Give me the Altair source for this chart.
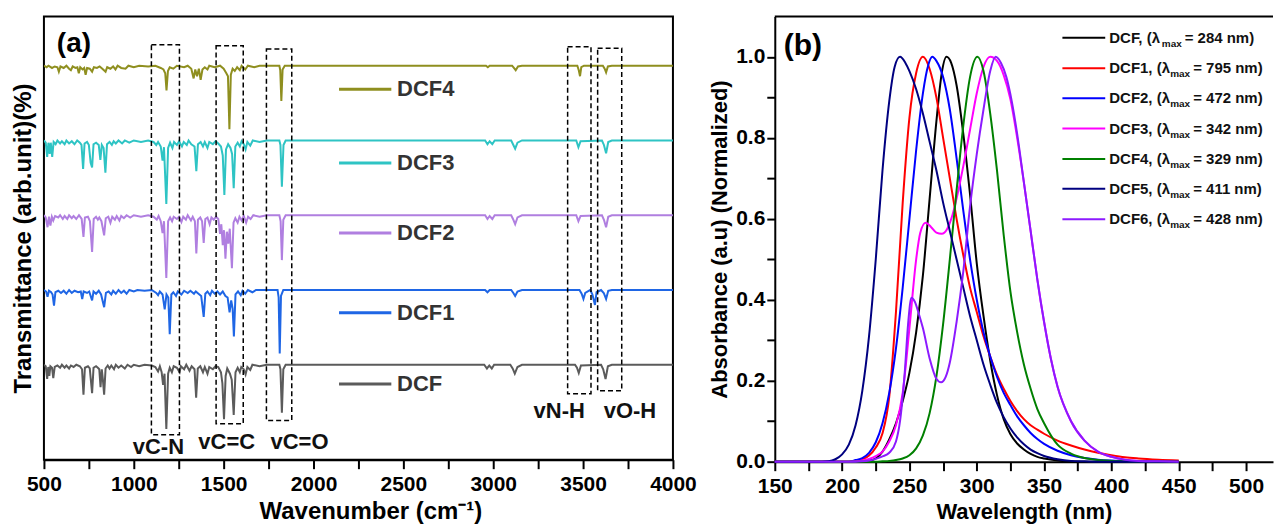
import altair as alt
import pandas as pd

FONT = "Liberation Sans"

# ---------------- Panel (a): FTIR spectra (relative transmittance, offset per series) ----------------
ir_names = ["DCF", "DCF1", "DCF2", "DCF3", "DCF4"]
ir_offsets = [0, 1, 2, 3, 4]
ir_colors = ["#5b5b5b", "#1f66e5", "#b07fe0", "#2ec4c4", "#8f8f1f"]

ir_DCF = [(500,0),(510,-0.02),(518,-0.19),(524,-0.03),(530,-0.15),(536,-0.02),(545,-0.04),(552,-0.18),(560,-0.03),
          (575,-0.01),(590,-0.04),(600,0),(615,-0.04),(625,-0.01),(640,-0.05),(650,-0.01),(665,-0.03),(680,0),(700,-0.02),
          (712,-0.06),(720,-0.40),(728,-0.04),(745,-0.02),(755,-0.05),(768,-0.38),(776,-0.04),(790,-0.02),(800,-0.04),
          (808,-0.06),(815,-0.30),(822,-0.06),(828,-0.20),(835,-0.40),(843,-0.05),(855,-0.01),(865,-0.05),(875,-0.01),
          (890,-0.06),(900,0),(915,-0.04),(930,-0.01),(950,-0.05),(965,0),(985,-0.03),(1000,0),(1030,-0.02),(1060,0),
          (1100,-0.01),(1120,-0.03),(1135,-0.09),(1145,-0.02),(1155,-0.10),(1163,-0.27),(1171,-0.12),(1181,-0.86),
          (1191,-0.12),(1200,-0.04),(1212,-0.10),(1222,-0.02),(1240,-0.04),(1255,-0.10),(1262,-0.02),(1280,-0.06),
          (1292,0),(1310,-0.08),(1322,-0.02),(1338,-0.06),(1347,-0.44),(1356,-0.05),(1370,-0.02),(1385,-0.10),
          (1395,-0.03),(1410,-0.12),(1420,-0.03),(1440,-0.06),(1455,-0.02),(1470,-0.03),(1485,-0.10),(1493,-0.25),
          (1502,-0.73),(1511,-0.15),(1520,-0.05),(1535,-0.12),(1545,-0.20),(1556,-0.67),(1566,-0.10),(1578,-0.04),
          (1590,-0.10),(1598,-0.03),(1612,-0.06),(1622,-0.13),(1632,-0.03),(1648,-0.07),(1660,0),(1700,-0.02),(1740,0),
          (1810,0),(1816,-0.06),(1824,-0.64),(1832,-0.06),(1845,0),(2950,0),(2965,-0.05),(2978,-0.01),(2992,-0.05),
          (3005,0),(3095,0),(3108,-0.05),(3120,-0.12),(3135,-0.03),(3160,0),(3455,0),(3466,-0.04),(3476,-0.11),
          (3488,-0.01),(3600,0),(3612,-0.06),(3625,-0.19),(3638,-0.02),(3660,0),(4000,0)]

ir_DCF1 = [(500,0),(512,-0.02),(520,-0.09),(528,-0.01),(540,-0.03),(548,-0.06),(556,-0.21),(564,-0.03),(580,-0.01),
           (595,-0.04),(610,-0.01),(625,-0.05),(640,0),(655,-0.04),(670,-0.01),(690,-0.03),(705,-0.02),(713,-0.12),
           (721,-0.02),(740,-0.04),(752,-0.02),(768,-0.14),(776,-0.02),(790,-0.05),(805,-0.01),(818,-0.06),(835,-0.23),
           (845,-0.04),(860,-0.02),(875,-0.06),(885,-0.01),(900,-0.05),(915,0),(930,-0.04),(945,-0.01),(960,-0.05),
           (975,0),(1000,-0.02),(1020,0),(1060,-0.01),(1100,0),(1125,-0.04),(1135,-0.07),(1145,-0.02),(1160,-0.06),
           (1172,-0.26),(1182,-0.06),(1192,-0.10),(1200,-0.59),(1209,-0.06),(1220,-0.03),(1235,-0.08),(1245,-0.02),
           (1265,-0.06),(1280,-0.01),(1300,-0.04),(1315,-0.01),(1335,-0.05),(1345,-0.02),(1360,-0.05),(1375,-0.08),
           (1389,-0.36),(1398,-0.05),(1410,-0.02),(1425,-0.07),(1435,-0.01),(1450,-0.05),(1465,-0.02),(1480,-0.06),
           (1495,-0.02),(1510,-0.08),(1522,-0.10),(1533,-0.30),(1542,-0.14),(1550,-0.25),(1557,-0.62),(1566,-0.06),
           (1580,-0.02),(1595,-0.07),(1605,-0.01),(1620,-0.05),(1635,0),(1660,-0.03),(1680,0),(1800,0),(1806,-0.10),
           (1812,-0.85),(1819,-0.08),(1832,0),(2955,0),(2968,-0.03),(2980,0),(3100,0),(3112,-0.04),(3122,-0.08),
           (3135,-0.02),(3160,0),(3480,0),(3492,-0.05),(3502,-0.12),(3512,-0.04),(3540,0),(3552,-0.06),(3566,-0.20),
           (3575,-0.03),(3600,0),(3615,-0.04),(3628,-0.12),(3640,-0.01),(3660,0),(4000,0)]

ir_DCF2 = [(500,0),(510,-0.03),(520,-0.16),(528,-0.02),(536,-0.14),(544,-0.02),(552,-0.07),(562,-0.01),(580,-0.03),
           (590,0),(605,-0.05),(615,-0.01),(630,-0.05),(640,0),(655,-0.04),(665,-0.01),(680,-0.05),(695,0),(710,-0.05),
           (720,-0.29),(728,-0.03),(745,-0.02),(756,-0.08),(768,-0.49),(777,-0.05),(790,-0.02),(800,-0.06),(808,-0.03),
           (820,-0.08),(835,-0.27),(844,-0.04),(858,-0.02),(870,-0.10),(880,-0.02),(895,-0.06),(905,-0.01),(920,-0.07),
           (930,-0.01),(945,-0.04),(960,0),(980,-0.03),(1000,0),(1040,-0.02),(1080,0),(1110,-0.02),(1128,-0.06),
           (1138,-0.01),(1150,-0.08),(1160,-0.24),(1168,-0.08),(1181,-0.84),(1191,-0.08),(1202,-0.03),(1213,-0.08),
           (1222,-0.02),(1240,-0.05),(1252,-0.02),(1265,-0.09),(1275,-0.02),(1290,-0.06),(1300,0),(1318,-0.07),
           (1328,-0.02),(1340,-0.08),(1348,-0.51),(1357,-0.06),(1370,-0.03),(1380,-0.08),(1389,-0.37),(1398,-0.05),
           (1410,-0.03),(1422,-0.12),(1432,-0.03),(1445,-0.06),(1458,-0.02),(1470,-0.05),(1480,-0.25),(1487,-0.12),
           (1495,-0.40),(1502,-0.20),(1510,-0.58),(1518,-0.22),(1526,-0.38),(1534,-0.18),(1546,-0.71),(1555,-0.10),
           (1565,-0.04),(1578,-0.10),(1588,-0.02),(1600,-0.07),(1612,-0.01),(1625,-0.10),(1636,-0.02),(1650,-0.05),
           (1665,0),(1700,-0.02),(1740,0),(1810,0),(1817,-0.08),(1824,-0.60),(1832,-0.06),(1845,0),(2955,0),
           (2968,-0.05),(2980,-0.01),(2995,-0.05),(3008,0),(3100,0),(3110,-0.05),(3122,-0.12),(3135,-0.03),(3160,0),
           (3462,0),(3474,-0.08),(3486,-0.01),(3605,0),(3616,-0.06),(3628,-0.16),(3640,-0.02),(3660,0),(4000,0)]

ir_DCF3 = [(500,0),(510,-0.03),(518,-0.22),(525,-0.03),(532,-0.18),(538,-0.03),(546,-0.22),(554,-0.02),(565,-0.05),
           (575,0),(590,-0.04),(600,-0.01),(615,-0.05),(625,0),(640,-0.04),(655,-0.01),(670,-0.05),(685,0),(700,-0.03),
           (709,-0.06),(718,-0.38),(726,-0.04),(740,-0.02),(750,-0.06),(760,-0.30),(768,-0.36),(776,-0.05),(790,-0.03),
           (805,-0.06),(814,-0.26),(822,-0.06),(832,-0.10),(842,-0.43),(851,-0.05),(865,-0.02),(878,-0.06),(888,-0.01),
           (900,-0.04),(915,0),(935,-0.04),(950,0),(975,-0.03),(1000,0),(1040,-0.02),(1080,0),(1110,-0.02),
           (1125,-0.06),(1135,-0.02),(1150,-0.08),(1160,-0.27),(1168,-0.09),(1181,-0.85),(1191,-0.10),(1202,-0.03),
           (1215,-0.10),(1224,-0.02),(1240,-0.06),(1252,-0.01),(1268,-0.08),(1278,-0.02),(1295,-0.06),(1305,0),
           (1320,-0.05),(1338,-0.08),(1348,-0.41),(1357,-0.05),(1372,-0.02),(1385,-0.08),(1395,-0.02),(1410,-0.10),
           (1420,-0.02),(1440,-0.05),(1455,-0.01),(1470,-0.04),(1485,-0.08),(1495,-0.20),(1504,-0.73),(1513,-0.12),
           (1525,-0.05),(1538,-0.10),(1547,-0.18),(1556,-0.64),(1565,-0.08),(1578,-0.03),(1590,-0.08),(1600,-0.01),
           (1612,-0.05),(1622,-0.12),(1632,-0.02),(1648,-0.07),(1662,0),(1700,-0.02),(1740,0),(1810,0),(1816,-0.06),
           (1824,-0.62),(1833,-0.06),(1845,0),(2955,0),(2968,-0.05),(2980,-0.01),(2995,-0.05),(3008,0),(3100,0),
           (3110,-0.05),(3122,-0.11),(3135,-0.03),(3160,0),(3462,0),(3474,-0.09),(3486,-0.01),(3605,0),(3616,-0.06),
           (3628,-0.17),(3640,-0.02),(3660,0),(4000,0)]

ir_DCF4 = [(500,0),(515,-0.02),(525,0),(545,-0.03),(560,-0.01),(575,-0.02),(583,-0.08),(592,-0.01),(610,-0.03),
           (625,0),(640,-0.04),(650,-0.06),(660,-0.01),(675,-0.03),(686,-0.02),(694,-0.10),(702,-0.02),(715,-0.05),
           (724,-0.03),(732,-0.12),(740,-0.03),(755,-0.04),(768,-0.08),(778,-0.02),(795,-0.03),(810,-0.01),
           (825,-0.04),(843,-0.08),(852,-0.02),(870,-0.04),(885,-0.01),(898,-0.05),(910,0),(930,-0.03),(954,-0.04),
           (970,0),(1000,-0.02),(1030,0),(1080,-0.01),(1120,0),(1150,-0.03),(1165,-0.05),(1175,-0.10),(1182,-0.33),
           (1190,-0.07),(1200,-0.02),(1220,-0.04),(1240,0),(1280,-0.02),(1300,0),(1320,-0.04),(1333,-0.17),
           (1342,-0.05),(1352,-0.14),(1362,-0.04),(1372,-0.19),(1382,-0.05),(1395,-0.02),(1410,-0.05),(1420,0),
           (1450,-0.02),(1480,0),(1500,-0.04),(1515,-0.10),(1524,-0.14),(1532,-0.85),(1540,-0.12),(1550,-0.04),
           (1562,-0.07),(1575,-0.02),(1590,-0.06),(1600,0),(1620,-0.05),(1635,0),(1670,-0.02),(1700,0),(1810,0),
           (1815,-0.06),(1821,-0.47),(1828,-0.05),(1840,0),(2960,0),(2970,-0.02),(2980,0),(3105,0),(3115,-0.03),
           (3125,-0.06),(3138,-0.01),(3160,0),(3468,0),(3476,-0.06),(3483,-0.14),(3490,-0.02),(3505,0),(3610,0),
           (3620,-0.04),(3628,-0.09),(3638,-0.01),(3660,0),(4000,0)]

ir_points = [ir_DCF, ir_DCF1, ir_DCF2, ir_DCF3, ir_DCF4]

# in-panel legend of (a)
leg_a_names = ["DCF4", "DCF3", "DCF2", "DCF1", "DCF"]
leg_a_y = [3.686, 2.698, 1.762, 0.694, -0.256]
leg_a_line = [2142, 2433]
leg_a_text_x = 2465

# dashed boxes of (a)
box_labels = ["vC-N", "vC=C", "vC=O", "vN-H", "vO-H"]
box_x1 = [1098, 1458, 1738, 3414, 3581]
box_x2 = [1254, 1609, 1879, 3544, 3715]
box_y1 = [-0.937, -0.79, -0.745, -0.389, -0.349]
box_y2 = [4.28, 4.267, 4.223, 4.254, 4.234]
box_lab_x = [1137, 1517, 1922, 3367, 3761]
box_lab_y = [-1.10, -1.03, -1.03, -0.625, -0.625]

a_ticks = [500, 750, 1000, 1250, 1500, 1750, 2000, 2250, 2500, 2750, 3000, 3250, 3500, 3750, 4000]

# ---------------- Panel (b): UV-vis normalized absorbance ----------------
uv_names = ["DCF", "DCF1", "DCF2", "DCF3", "DCF4", "DCF5", "DCF6"]
uv_colors = ["#000000", "#ff0000", "#0000ff", "#ff00ff", "#008000", "#000080", "#8c1aff"]
uv_lmax = [284, 795, 472, 342, 329, 411, 428]

uv_DCF = [(150,0),(200,0),(215,0),(220,0.002),(225,0.008),(230,0.025),(235,0.055),(240,0.095),(245,0.15),(250,0.22),
          (255,0.32),(260,0.46),(265,0.65),(270,0.84),(274,0.96),(277.5,1.0),(281,0.985),(285,0.93),(290,0.81),
          (295,0.66),(300,0.49),(305,0.36),(310,0.25),(315,0.165),(320,0.105),(325,0.068),(330,0.045),(335,0.03),
          (340,0.019),(345,0.012),(350,0.008),(360,0.003),(370,0.001),(380,0),(450,0)]
uv_DCF1 = [(150,0),(205,0),(210,0.002),(215,0.006),(220,0.015),(225,0.035),(230,0.07),(235,0.16),(240,0.37),(245,0.64),
           (250,0.85),(255,0.96),(260,1.0),(265,0.97),(270,0.90),(275,0.80),(280,0.70),(285,0.60),(290,0.51),(295,0.43),
           (300,0.37),(305,0.31),(310,0.26),(315,0.215),(320,0.18),(325,0.15),(330,0.125),(335,0.105),(340,0.09),
           (345,0.079),(350,0.069),(360,0.052),(370,0.04),(380,0.03),(390,0.022),(400,0.016),(410,0.011),(420,0.008),
           (435,0.005),(450,0.003)]
uv_DCF2 = [(150,0),(205,0),(210,0.004),(215,0.009),(220,0.022),(225,0.048),(230,0.095),(235,0.17),(240,0.28),(245,0.43),
           (250,0.60),(255,0.77),(260,0.91),(264,0.98),(267,1.0),(270,0.99),(275,0.95),(280,0.87),(285,0.75),(290,0.62),
           (295,0.50),(300,0.40),(305,0.32),(310,0.26),(315,0.21),(320,0.17),(325,0.14),(330,0.112),(335,0.09),
           (340,0.071),(345,0.056),(350,0.044),(360,0.027),(370,0.016),(380,0.009),(390,0.005),(400,0.003),(410,0.002),
           (420,0.001),(435,0),(450,0)]
uv_DCF3 = [(150,0),(205,0),(210,0.001),(215,0.003),(220,0.007),(225,0.014),(230,0.025),(235,0.05),(240,0.09),(245,0.17),
           (250,0.33),(255,0.50),(258,0.565),(262,0.59),(266,0.58),(270,0.566),(274,0.563),(278,0.575),(282,0.61),
           (286,0.665),(290,0.73),(295,0.82),(300,0.91),(305,0.975),(310,1.0),(315,0.99),(320,0.955),(325,0.895),
           (330,0.80),(335,0.69),(340,0.57),(345,0.45),(350,0.345),(355,0.255),(360,0.185),(370,0.10),(380,0.052),
           (390,0.025),(400,0.012),(410,0.005),(420,0.002),(435,0.001),(450,0)]
uv_DCF4 = [(150,0),(225,0),(230,0.001),(235,0.002),(240,0.004),(245,0.008),(250,0.016),(255,0.033),(260,0.065),(265,0.12),
           (270,0.21),(275,0.34),(280,0.50),(285,0.67),(290,0.83),(295,0.95),(300.5,1.0),(305,0.965),(310,0.86),
           (315,0.72),(320,0.56),(325,0.42),(330,0.32),(335,0.24),(340,0.18),(345,0.13),(350,0.095),(360,0.042),
           (370,0.02),(380,0.009),(390,0.004),(400,0.002),(410,0.001),(420,0),(450,0)]
uv_DCF5 = [(150,0),(185,0),(190,0.001),(195,0.006),(200,0.018),(205,0.042),(210,0.09),(215,0.175),(220,0.31),(225,0.50),
           (230,0.72),(235,0.89),(239,0.975),(243,1.0),(247,0.985),(250,0.965),(255,0.92),(260,0.86),(265,0.79),
           (270,0.72),(275,0.64),(280,0.57),(285,0.50),(290,0.43),(295,0.36),(300,0.30),(305,0.24),(310,0.19),
           (315,0.145),(320,0.11),(325,0.082),(330,0.06),(335,0.043),(340,0.03),(345,0.021),(350,0.014),(360,0.006),
           (370,0.002),(380,0.001),(390,0),(450,0)]
uv_DCF6 = [(150,0),(210,0),(215,0.001),(220,0.003),(225,0.007),(230,0.013),(235,0.022),(240,0.05),(243,0.10),
           (246.5,0.22),(249,0.34),(251.5,0.405),(254,0.395),(257,0.365),(260,0.33),(265,0.255),(270,0.205),
           (273.5,0.196),(277,0.21),(280,0.245),(285,0.345),(290,0.47),(295,0.63),(300,0.76),(305,0.87),(310,0.965),
           (314,1.0),(318,0.985),(322,0.95),(326,0.89),(330,0.81),(335,0.69),(340,0.57),(345,0.45),(350,0.345),
           (355,0.255),(360,0.185),(370,0.10),(380,0.052),(390,0.025),(400,0.012),(410,0.005),(420,0.002),
           (435,0.001),(450,0)]
uv_points = [uv_DCF, uv_DCF1, uv_DCF2, uv_DCF3, uv_DCF4, uv_DCF5, uv_DCF6]

b_xticks = [150, 175, 200, 225, 250, 275, 300, 325, 350, 375, 400, 425, 450, 475, 500]
b_yticks = [0.0, 0.1, 0.2, 0.3, 0.4, 0.5, 0.6, 0.7, 0.8, 0.9, 1.0]

# legend layout of (b) (in data units of panel b)
leg_b_line = [363.6, 395.4]
leg_b_text_x = 398.4
leg_b_sub_x = [437.4, 443.6, 443.6, 443.6, 443.6, 443.6, 443.6]
leg_b_rest_x = [454.4, 460.7, 460.7, 460.7, 460.7, 460.7, 460.7]
leg_b_y = [1.047, 0.972, 0.898, 0.823, 0.748, 0.674, 0.599]

# ---------------- build tables ----------------
ir_rows = []
for name, off, pts in zip(ir_names, ir_offsets, ir_points):
    for wn, t in pts:
        ir_rows.append({"ir": name, "wn": wn, "T": t + off})
ir_df = pd.DataFrame(ir_rows)

leg_a_df = pd.DataFrame({"ir": leg_a_names, "T": leg_a_y,
                         "wn": [leg_a_line[0]] * 5, "wn2": [leg_a_line[1]] * 5,
                         "wnt": [leg_a_text_x] * 5})
box_df = pd.DataFrame({"label": box_labels, "wn": box_x1, "wn2": box_x2, "T": box_y1, "T2": box_y2,
                       "lx": box_lab_x, "ly": box_lab_y})

uv_rows = []
for name, pts in zip(uv_names, uv_points):
    for lam, a in pts:
        uv_rows.append({"uv": name, "lam": lam, "A": a})
uv_df = pd.DataFrame(uv_rows)

leg_b_df = pd.DataFrame({
    "uv": uv_names,
    "A": leg_b_y,
    "lam": [leg_b_line[0]] * 7,
    "lam2": [leg_b_line[1]] * 7,
    "lt": [leg_b_text_x] * 7,
    "ls": leg_b_sub_x,
    "lr": leg_b_rest_x,
    "pre": [f"{n}, (λ" for n in uv_names],
    "sub": ["max"] * 7,
    "rest": [f" = {v} nm)" for v in uv_lmax],
})

# ---------------- panel (a) ----------------
xa_scale = alt.Scale(domain=[500, 4000], nice=False, zero=False)
ya_scale = alt.Scale(domain=[-1.27, 4.66], nice=False, zero=False)

xa_axis = alt.Axis(values=a_ticks, format="d",
                   labelExpr="datum.value % 500 == 0 ? datum.label : ''",
                   labelFlush=False, labelOverlap=False, grid=False,
                   tickSize=9, tickWidth=2, tickColor="black",
                   domainColor="black", domainWidth=2,
                   labelFont=FONT, labelFontSize=21, labelFontWeight="bold", labelColor="black", labelPadding=5,
                   titleFont=FONT, titleFontSize=24, titleFontWeight="bold", titleColor="black",
                   titlePadding=5, titleX=327)
ya_axis = alt.Axis(labels=False, ticks=False, domain=False, grid=False,
                   titleFont=FONT, titleFontSize=24, titleFontWeight="bold", titleColor="black",
                   titlePadding=8)

XA = alt.X("wn:Q", scale=xa_scale, axis=xa_axis, title="Wavenumber (cm⁻¹)")
YA = alt.Y("T:Q", scale=ya_scale, axis=ya_axis, title="Transmittance (arb.unit)(%)")
col_a = alt.Color("ir:N", scale=alt.Scale(domain=ir_names, range=ir_colors), legend=None)

lines_a = alt.Chart(ir_df).mark_line(strokeWidth=2, clip=True).encode(x=XA, y=YA, color=col_a, detail="ir:N")
leg_lines_a = alt.Chart(leg_a_df).mark_rule(strokeWidth=3).encode(x=XA, x2="wn2:Q", y=YA, color=col_a)
leg_text_a = alt.Chart(leg_a_df).mark_text(align="left", baseline="middle", font=FONT, fontSize=22,
                                           fontWeight="bold", color="#333333").encode(
    x=alt.X("wnt:Q", scale=xa_scale, axis=xa_axis, title="Wavenumber (cm⁻¹)"), y=YA, text="ir:N")
boxes_a = alt.Chart(box_df).mark_rect(fillOpacity=0, stroke="black", strokeWidth=1.5, strokeDash=[5, 3]).encode(
    x=XA, x2="wn2:Q", y=YA, y2="T2:Q")
box_text_a = alt.Chart(box_df).mark_text(align="center", baseline="middle", font=FONT, fontSize=22,
                                         fontWeight="bold", color="#111111").encode(
    x=alt.X("lx:Q", scale=xa_scale, axis=xa_axis, title="Wavenumber (cm⁻¹)"),
    y=alt.Y("ly:Q", scale=ya_scale, axis=ya_axis, title="Transmittance (arb.unit)(%)"),
    text="label:N")
tag_a = alt.Chart(pd.DataFrame({"wn": [572], "T": [4.287], "t": ["(a)"]})).mark_text(
    align="left", baseline="middle", font=FONT, fontSize=28, fontWeight="bold", color="black").encode(
    x=XA, y=YA, text="t:N")

panel_a = alt.layer(lines_a, leg_lines_a, leg_text_a, boxes_a, box_text_a, tag_a).properties(
    width=630, height=444, view=alt.ViewBackground(stroke="black", strokeWidth=2))

# ---------------- panel (b) ----------------
xb_scale = alt.Scale(domain=[150, 520], nice=False, zero=False)
yb_scale = alt.Scale(domain=[0, 1.1], nice=False)

xb_axis = alt.Axis(values=b_xticks, format="d",
                   labelExpr="datum.value % 50 == 0 ? datum.label : ''",
                   labelFlush=False, labelOverlap=False, grid=False,
                   tickSize=9, tickWidth=2, tickColor="black",
                   domainColor="black", domainWidth=2,
                   labelFont=FONT, labelFontSize=21, labelFontWeight="bold", labelColor="black", labelPadding=5,
                   titleFont=FONT, titleFontSize=22, titleFontWeight="bold", titleColor="black", titlePadding=5)
yb_axis = alt.Axis(values=b_yticks,
                   labelExpr="round(datum.value * 10) % 2 == 0 ? format(datum.value, '.1f') : ''",
                   labelFlush=False, labelOverlap=False, grid=False,
                   tickSize=8, tickWidth=2, tickColor="black",
                   domainColor="black", domainWidth=2,
                   labelFont=FONT, labelFontSize=21, labelFontWeight="bold", labelColor="black", labelPadding=2,
                   titleFont=FONT, titleFontSize=22, titleFontWeight="bold", titleColor="black", titlePadding=4)

XB = alt.X("lam:Q", scale=xb_scale, axis=xb_axis, title="Wavelength (nm)")
YB = alt.Y("A:Q", scale=yb_scale, axis=yb_axis, title="Absorbance (a.u) (Normalized)")
col_b = alt.Color("uv:N", scale=alt.Scale(domain=uv_names, range=uv_colors), legend=None)

lines_b = alt.Chart(uv_df).mark_line(strokeWidth=2, interpolate="monotone").encode(
    x=XB, y=YB, color=col_b, detail="uv:N")
top_b = alt.Chart(pd.DataFrame({"lam": [150], "lam2": [520], "A": [1.1]})).mark_rule(
    strokeWidth=2, color="black").encode(x=XB, x2="lam2:Q", y=YB)
leg_lines_b = alt.Chart(leg_b_df).mark_rule(strokeWidth=2).encode(x=XB, x2="lam2:Q", y=YB, color=col_b)


def xb_field(f):
    return alt.X(f"{f}:Q", scale=xb_scale, axis=xb_axis, title="Wavelength (nm)")


leg_pre_b = alt.Chart(leg_b_df).mark_text(align="left", baseline="middle", font=FONT, fontSize=15,
                                          fontWeight="bold", color="#111111").encode(
    x=xb_field("lt"), y=YB, text="pre:N")
leg_sub_b = alt.Chart(leg_b_df).mark_text(align="left", baseline="middle", font=FONT, fontSize=10,
                                          fontWeight="bold", color="#111111", dy=6).encode(
    x=xb_field("ls"), y=YB, text="sub:N")
leg_rest_b = alt.Chart(leg_b_df).mark_text(align="left", baseline="middle", font=FONT, fontSize=15,
                                           fontWeight="bold", color="#111111").encode(
    x=xb_field("lr"), y=YB, text="rest:N")
tag_b = alt.Chart(pd.DataFrame({"lam": [156.7], "A": [1.028], "t": ["(b)"]})).mark_text(
    align="left", baseline="middle", font=FONT, fontSize=30, fontWeight="bold", color="black").encode(
    x=XB, y=YB, text="t:N")

panel_b = alt.layer(lines_b, top_b, leg_lines_b, leg_pre_b, leg_sub_b, leg_rest_b, tag_b).properties(
    width=499, height=446)

chart = alt.hconcat(panel_a, panel_b, spacing=10).resolve_scale(color="independent").properties(
    padding={"left": 11, "top": 15, "right": 0, "bottom": 0},
    background="white",
).configure_view(strokeWidth=0)

chart.save("out.html", embed_options={"renderer": "svg", "actions": False})
